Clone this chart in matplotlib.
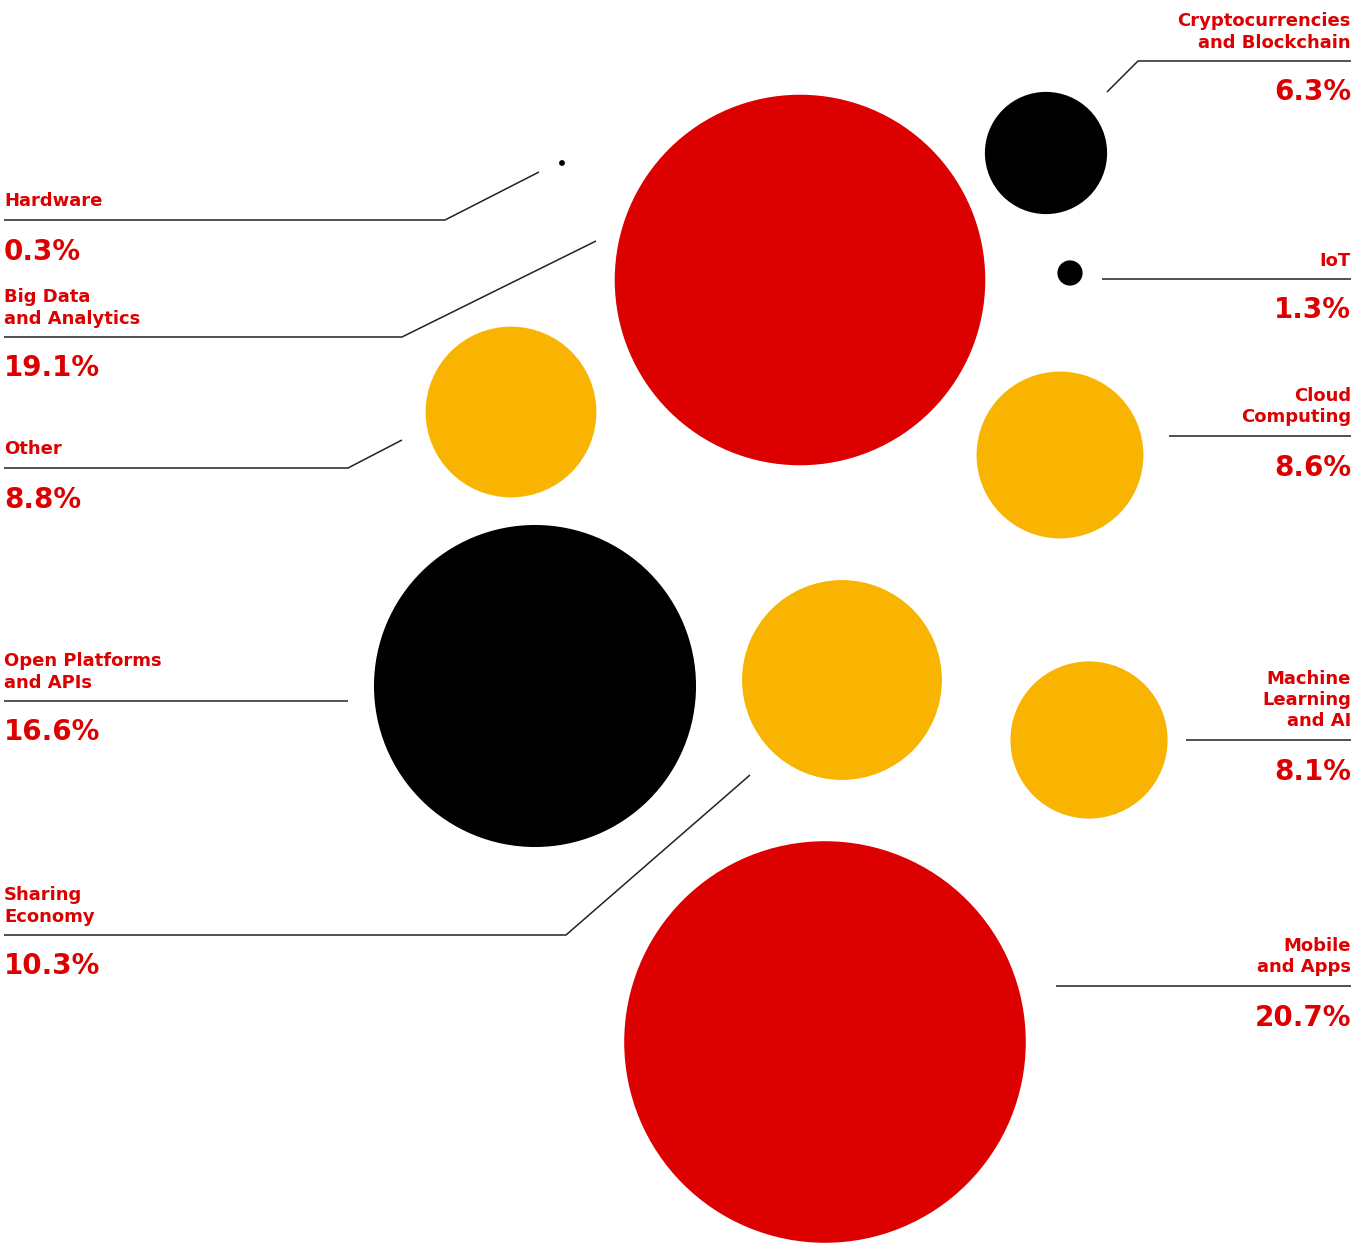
import matplotlib
matplotlib.use("Agg")
import matplotlib.pyplot as plt
from matplotlib.patches import Circle

# ---- data ----
categories = ["Hardware", "Big Data\nand Analytics", "Other", "Open Platforms\nand APIs",
              "Sharing\nEconomy", "Cryptocurrencies\nand Blockchain", "IoT",
              "Cloud\nComputing", "Machine\nLearning\nand AI", "Mobile\nand Apps"]
shares = [0.3, 19.1, 8.8, 16.6, 10.3, 6.3, 1.3, 8.6, 8.1, 20.7]
pct_labels = ["0.3%", "19.1%", "8.8%", "16.6%", "10.3%", "6.3%", "1.3%", "8.6%", "8.1%", "20.7%"]
bubble_x = [562, 800, 511, 535, 842, 1046, 1070, 1060, 1089, 825]
bubble_y = [163, 280, 412, 686, 680, 153, 273, 455, 740, 1042]
bubble_colors = ["#000000", "#DD0000", "#F8B400", "#000000", "#F8B400",
                 "#000000", "#000000", "#F8B400", "#F8B400", "#DD0000"]
label_side = ["left", "left", "left", "left", "left", "right", "right", "right", "right", "right"]
# leader lines: y of horizontal rule, x where it stops, optional diagonal end point
rule_y = [220, 337, 468, 701, 935, 61, 279, 436, 740, 986]
rule_x = [445, 402, 348, 348, 566, 1138, 1102, 1169, 1186, 1056]
diag_end = [(539, 172), (596, 241), (402, 440), None, (750, 775),
            (1107, 92), None, None, None, None]

W, H = 1352, 1251
PX_PER_PCT = 9.7
RED = "#DD0000"
FONT = ["DejaVu Sans"]

fig = plt.figure(figsize=(W / 100, H / 100), dpi=100)
ax = fig.add_axes([0, 0, 1, 1])
ax.set_xlim(0, W)
ax.set_ylim(H, 0)
ax.axis("off")

for x, y, v, c in zip(bubble_x, bubble_y, shares, bubble_colors):
    ax.add_patch(Circle((x, y), v * PX_PER_PCT, color=c, lw=0, zorder=2))

for name, pct, side, ry, rx, de in zip(categories, pct_labels, label_side,
                                       rule_y, rule_x, diag_end):
    if side == "left":
        x0, ha = 4, "left"
    else:
        x0, ha = 1351, "right"
    xs = [x0, rx]
    ys = [ry, ry]
    if de is not None:
        xs.append(de[0])
        ys.append(de[1])
    ax.plot(xs, ys, color="#222222", lw=1.1, solid_capstyle="butt", zorder=3)
    lines = name.split("\n")
    n = len(lines)
    for i, ln in enumerate(lines):
        base = ry - 13.5 - (n - 1 - i) * 21.5
        ax.text(x0, base, ln, ha=ha, va="baseline", color=RED, fontsize=13,
                fontweight="bold", family=FONT)
    ax.text(x0, ry + 39.5, pct, ha=ha, va="baseline", color=RED, fontsize=20,
            fontweight="bold", family=FONT)

fig.savefig("out.png", dpi=100, facecolor="white")
